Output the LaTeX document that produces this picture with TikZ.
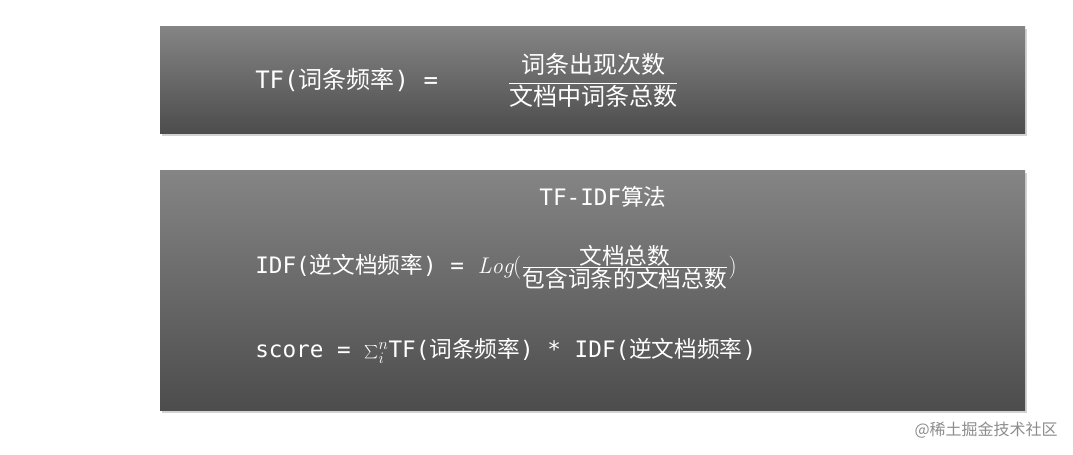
\documentclass[tikz,border=0pt]{standalone}
\usepackage{fontspec}
\setmonofont{DejaVu Sans Mono}
\newfontfamily\cjk{Noto Sans CJK SC}
\usetikzlibrary{shadows}
\tikzset{
 panel/.style={top color=gray!58!black!100!white, bottom color=black!68, draw=none,
   drop shadow={shadow xshift=1.5pt,shadow yshift=-2pt,opacity=0.35}},
 txt/.style={text=white,font=\ttfamily\fontsize{17}{20}\selectfont,inner sep=0pt},
 big/.style={text=white,font=\ttfamily\fontsize{18}{21}\selectfont,inner sep=0pt}
}
\newcommand{\cj}[1]{\mbox{\cjk #1}}
\begin{document}
\begin{tikzpicture}[x=0.75pt,y=-0.75pt]
\useasboundingbox (0,0) rectangle (1073,454);
\shade[panel,top color=black!48,bottom color=black!70] (160,26) rectangle (1025,133);
\shade[panel,top color=black!48,bottom color=black!70] (160,170) rectangle (1025,410);
\node[big,anchor=west] (tf) at (255,80) {TF({\cjk 词条频率}) =};
\node[big] (tffrac) at (593,80) {$\displaystyle\frac{\cj{词条出现次数}}{\cj{文档中词条总数}}$};
\node[txt] (title) at (603,197) {TF-IDF{\cjk 算法}};
\node[txt,anchor=west] (idf) at (255,267) {IDF({\cjk 逆文档频率}) = $\mathit{Log}\Bigl(\frac{\cj{文档总数}}{\cj{包含词条的文档总数}}\Bigr)$};
\node[txt,anchor=west] (score) at (255,351) {score = $\sum_i^n$TF({\cjk 词条频率}) * IDF({\cjk 逆文档频率})};
\node[text=black!45,font=\cjk\fontsize{12}{14}\selectfont,anchor=east,inner sep=0pt] (wm) at (1058,430) {@稀土掘金技术社区};
\end{tikzpicture}
\end{document}
